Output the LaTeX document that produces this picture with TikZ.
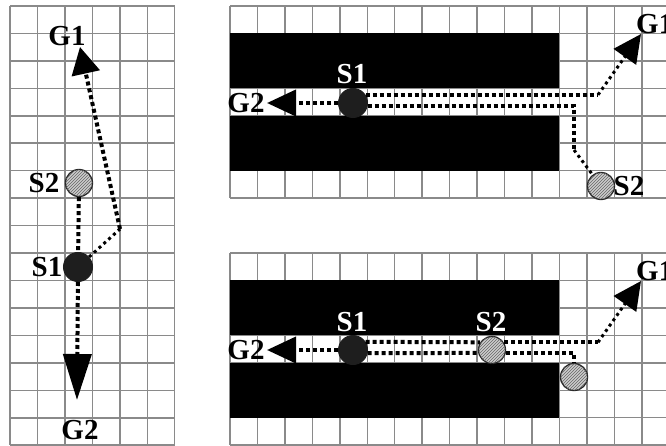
\documentclass[tikz,border=0pt]{standalone}
\usepackage{fontspec}
\setmainfont{Liberation Serif}
\usetikzlibrary{arrows.meta,patterns,calc}
\definecolor{gridgray}{RGB}{138,138,138}
\definecolor{hatchbg}{RGB}{205,205,205}
\definecolor{darkdot}{RGB}{30,30,30}
\newcommand\cellsz{27.45}
\begin{document}
\begin{tikzpicture}[x=1pt,y=-1pt,
  gridl/.style={draw=gridgray,line width=1.5pt},
  dotline/.style={line width=4pt,dash pattern=on 4pt off 3pt},
  thindots/.style={line width=3pt,dash pattern=on 3pt off 3.5pt},
  soliddot/.style={circle,draw=darkdot,fill=darkdot,minimum size=29pt,inner sep=0pt,line width=1pt},
  hatchdot/.style={circle,draw=black!85,line width=1.3pt,fill=hatchbg,minimum size=27pt,inner sep=0pt,
    postaction={pattern=north east lines,pattern color=black!60}},
  lbl/.style={font=\bfseries\fontsize{29}{29}\selectfont,inner sep=0pt},
  wlbl/.style={lbl,text=white},
  tipbig/.style={-{Triangle[length=46pt,width=28pt]}},
  tipmid/.style={-{Triangle[length=28pt,width=27pt]}}]
\path[use as bounding box] (0,0) rectangle (666,446);
\clip (0,0) rectangle (666,446);

% ---- grids ----
\foreach \i in {0,...,6}
  \draw[gridl] ({10+\i*\cellsz},6) -- ({10+\i*\cellsz},{6+16*\cellsz});
\foreach \j in {0,...,16}
  \draw[gridl] (10,{6+\j*\cellsz}) -- ({10+6*\cellsz},{6+\j*\cellsz});
\foreach \yo in {6,253} {
  \foreach \i in {0,...,16}
    \draw[gridl] ({230+\i*\cellsz},\yo) -- ({230+\i*\cellsz},{\yo+7*\cellsz});
  \foreach \j in {0,...,7}
    \draw[gridl] (230,{\yo+\j*\cellsz}) -- ({230+16*\cellsz},{\yo+\j*\cellsz});
  \fill[black] (230,{\yo+\cellsz}) rectangle ({230+12*\cellsz},{\yo+3*\cellsz});
  \fill[black] (230,{\yo+4*\cellsz}) rectangle ({230+12*\cellsz},{\yo+6*\cellsz});
}

% ---- left panel ----
\node[hatchdot] (LS2) at (79,183) {};
\node[soliddot] (LS1) at (78,267) {};
\node[lbl] (LS2l) at (44,183) {S2};
\node[lbl] (LS1l) at (47,267) {S1};
\node[lbl] (LG1) at (67,36) {G1};
\node[lbl] (LG2) at (80,430) {G2};
\coordinate (Lbend) at (120,229);
\coordinate (LG1tip) at (80,47);
\coordinate (LG2tip) at (77,400);
\draw[dotline] (LS2) -- (LS1);
\draw[thindots] (LS1) -- (Lbend);
\draw[dotline,-{Triangle[length=27pt,width=28pt]}] (Lbend) -- (LG1tip);
\draw[dotline,tipbig] (LS1) -- (LG2tip);

% ---- top right panel ----
\node[soliddot] (TS1) at (353,103) {};
\node[wlbl] (TS1l) at (352,74) {S1};
\node[lbl] (TG2) at (246,103) {G2};
\node[hatchdot] (TS2) at (601,186) {};
\node[lbl] (TS2l) at (629,186) {S2};
\node[lbl,anchor=west] (TG1) at (636,24) {G1};
\coordinate (TG2tip) at (267,103);
\coordinate (TG1tip) at (641,34);
\coordinate (Txu) at (598,0);
\coordinate (Txl) at (574,0);
\coordinate (Tb3) at (574,150);
\draw[dotline,-{Triangle[length=29pt,width=26pt]}] (TS1) -- (TG2tip);
\draw[dotline] (TS1.33) -- (TS1.33 -| Txu) coordinate (Tb1);
\draw[thindots,tipmid] (Tb1) -- (TG1tip);
\draw[dotline] (TS1.348) -- (TS1.348 -| Txl) -- (Tb3);
\draw[thindots] (Tb3) -- (TS2);

% ---- bottom right panel ----
\node[soliddot] (BS1) at (353,350) {};
\node[hatchdot] (BS2) at (492,350) {};
\node[hatchdot] (BS3) at (574,377) {};
\node[wlbl] (BS1l) at (352,322) {S1};
\node[wlbl] (BS2l) at (491,322) {S2};
\node[lbl] (BG2) at (246,350) {G2};
\node[lbl,anchor=west] (BG1) at (636,271) {G1};
\coordinate (BG2tip) at (267,350);
\coordinate (BG1tip) at (641,281);
\coordinate (Bxu) at (598,0);
\draw[dotline,-{Triangle[length=29pt,width=26pt]}] (BS1) -- (BG2tip);
\draw[dotline] (BS1.33) -- (BS2.147);
\draw[dotline] (BS1.348) -- (BS2.192);
\draw[dotline] (BS2.33) -- (BS2.33 -| Bxu) coordinate (Bb1);
\draw[thindots,tipmid] (Bb1) -- (BG1tip);
\draw[dotline] (BS2.348) -| (BS3);
\end{tikzpicture}
\end{document}
